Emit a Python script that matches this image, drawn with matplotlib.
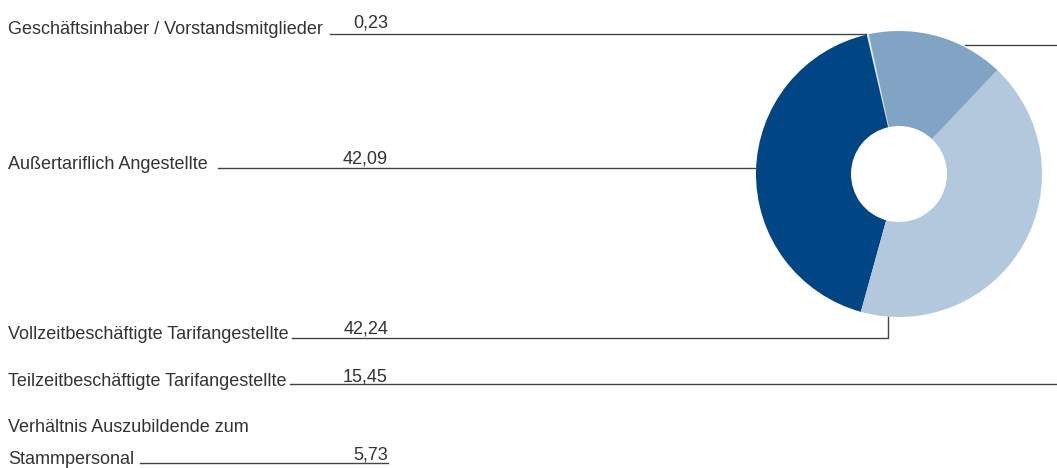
import matplotlib.pyplot as plt

W, H = 1057, 468

labels = ['Geschäftsinhaber / Vorstandsmitglieder', 'Außertariflich Angestellte',
          'Vollzeitbeschäftigte Tarifangestellte', 'Teilzeitbeschäftigte Tarifangestellte']
values = [0.23, 42.09, 42.24, 15.45]
value_text = ['0,23', '42,09', '42,24', '15,45']
extra_label = ['Verhältnis Auszubildende zum', 'Stammpersonal']
extra_text = '5,73'

colors = ['#dfe6ee', '#004685', '#b3c8dc', '#81a4c5']
fs = 13
tc = '#333333'
lc = '#444444'

plt.rcParams['font.family'] = ['Liberation Sans', 'DejaVu Sans']

fig = plt.figure(figsize=(W / 100, H / 100), dpi=100)
ax = fig.add_axes([0, 0, 1, 1])

def Y(y):
    return H - y

# donut
cx, cy, r, r_in = 899, 174, 143, 48
ax.pie(values, colors=colors, startangle=102.2, counterclock=True,
       radius=r, center=(cx, Y(cy)), frame=True,
       wedgeprops=dict(width=r - r_in, linewidth=0))
ax.set_xlim(0, W)
ax.set_ylim(0, H)
ax.set_aspect('auto')
ax.axis('off')

# label rows: (label baseline, value baseline)
rows = [(34, 28), (169, 163), (339, 333), (386, 381)]
for lab, vt, (lb, vb) in zip(labels, value_text, rows):
    ax.text(8, Y(lb), lab, fontsize=fs, color=tc, va='baseline', ha='left')
    ax.text(388, Y(vb), vt, fontsize=fs, color=tc, va='baseline', ha='right')

# leader lines
ax.plot([330, 866], [Y(34), Y(34)], color=lc, lw=1)
ax.plot([218, 756], [Y(168), Y(168)], color=lc, lw=1)
ax.plot([292, 888, 888], [Y(338), Y(338), Y(317)], color=lc, lw=1)
ax.plot([290, W], [Y(384), Y(384)], color=lc, lw=1)
ax.plot([965, W], [Y(45), Y(45)], color=lc, lw=1)

ax.text(8, Y(432), extra_label[0], fontsize=fs, color=tc, va='baseline', ha='left')
ax.text(8, Y(464), extra_label[1], fontsize=fs, color=tc, va='baseline', ha='left')
ax.text(388, Y(459), extra_text, fontsize=fs, color=tc, va='baseline', ha='right')
ax.plot([140, 388], [Y(463), Y(463)], color=lc, lw=1)

plt.savefig('out.png', dpi=100)
